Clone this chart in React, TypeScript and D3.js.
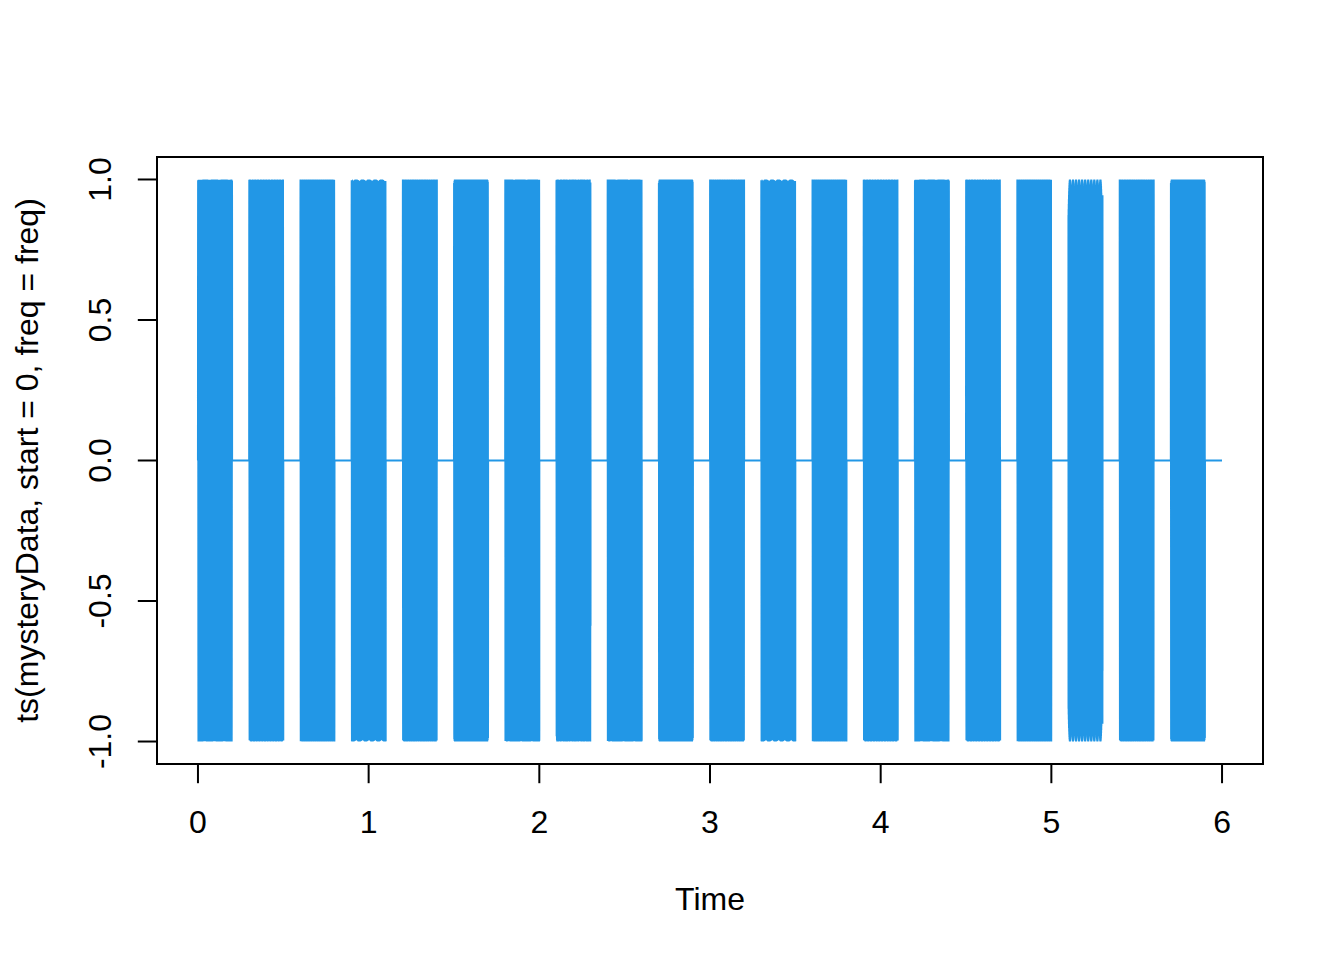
import React from "react";
import * as d3 from "d3";

// tone bursts: each note lasts 0.2 s, then 0.1 s silence
const noteStarts = [0, 0.3, 0.6, 0.9, 1.2, 1.5, 1.8, 2.1, 2.4, 2.7, 3.0, 3.3, 3.6, 3.9, 4.2, 4.5, 4.8, 5.1, 5.4, 5.7];
const noteLength = 0.2;
// carrier tone of each burst (Hz) - estimated, only the texture depends on it
const noteHz = [262, 294, 330, 349, 392, 440, 494, 523, 494, 440, 392, 349, 330, 294, 262, 294, 330, 1324, 392, 440];
const sampleRate = 8000;
const endTime = 6;

const xTicks = [0, 1, 2, 3, 4, 5, 6];
const yTicks = [-1, -0.5, 0, 0.5, 1];

const width = 1344;
const height = 960;
const margin = { top: 157, right: 81, bottom: 196, left: 157 };
const color = "#2297E6";
const font = "'Liberation Sans', Arial, Helvetica, sans-serif";

function buildSeries() {
  const n = Math.round(endTime * sampleRate);
  const out: [number, number][] = [];
  let k = 0;
  for (let i = 0; i < n; i++) {
    const t = i / sampleRate;
    while (k < noteStarts.length - 1 && t >= noteStarts[k + 1]) k++;
    const dt = t - noteStarts[k];
    const v = dt >= 0 && dt < noteLength ? Math.sin(2 * Math.PI * noteHz[k] * dt) : 0;
    out.push([t, v]);
  }
  return out;
}

const series = buildSeries();

export default function App() {
  const x0 = margin.left;
  const x1 = width - margin.right;
  const y0 = margin.top;
  const y1 = height - margin.bottom;

  const xPad = 0.04 * endTime;
  const x = d3.scaleLinear().domain([-xPad, endTime + xPad]).range([x0, x1]);
  const y = d3.scaleLinear().domain([-1.08, 1.08]).range([y1, y0]);

  const line = d3
    .line<[number, number]>()
    .x((d) => x(d[0]))
    .y((d) => y(d[1]));

  const tick = 19.2;

  return (
    <svg
      width={width}
      height={height}
      style={{ position: "absolute", left: 0, top: 0, background: "white" }}
      fontFamily={font}
    >
      <path d={line(series) || ""} fill="none" stroke={color} strokeWidth={2} />

      <rect x={x0} y={y0} width={x1 - x0} height={y1 - y0} fill="none" stroke="black" strokeWidth={2} />

      {/* x axis */}
      <line x1={x(xTicks[0])} x2={x(xTicks[xTicks.length - 1])} y1={y1} y2={y1} stroke="black" strokeWidth={2} />
      {xTicks.map((t) => (
        <g key={t}>
          <line x1={x(t)} x2={x(t)} y1={y1} y2={y1 + tick} stroke="black" strokeWidth={2} />
          <text x={x(t)} y={833} textAnchor="middle" fontSize={32}>
            {t}
          </text>
        </g>
      ))}

      {/* y axis */}
      {yTicks.map((t) => (
        <g key={t}>
          <line x1={x0 - tick} x2={x0} y1={y(t)} y2={y(t)} stroke="black" strokeWidth={2} />
          <text
            transform={`translate(111, ${y(t)}) rotate(-90)`}
            textAnchor="middle"
            fontSize={32}
          >
            {t.toFixed(1)}
          </text>
        </g>
      ))}

      <text x={(x0 + x1) / 2} y={910} textAnchor="middle" fontSize={32}>
        Time
      </text>
      <text transform={`translate(38, ${(y0 + y1) / 2}) rotate(-90)`} textAnchor="middle" fontSize={32}>
        ts(mysteryData, start = 0, freq = freq)
      </text>
    </svg>
  );
}
